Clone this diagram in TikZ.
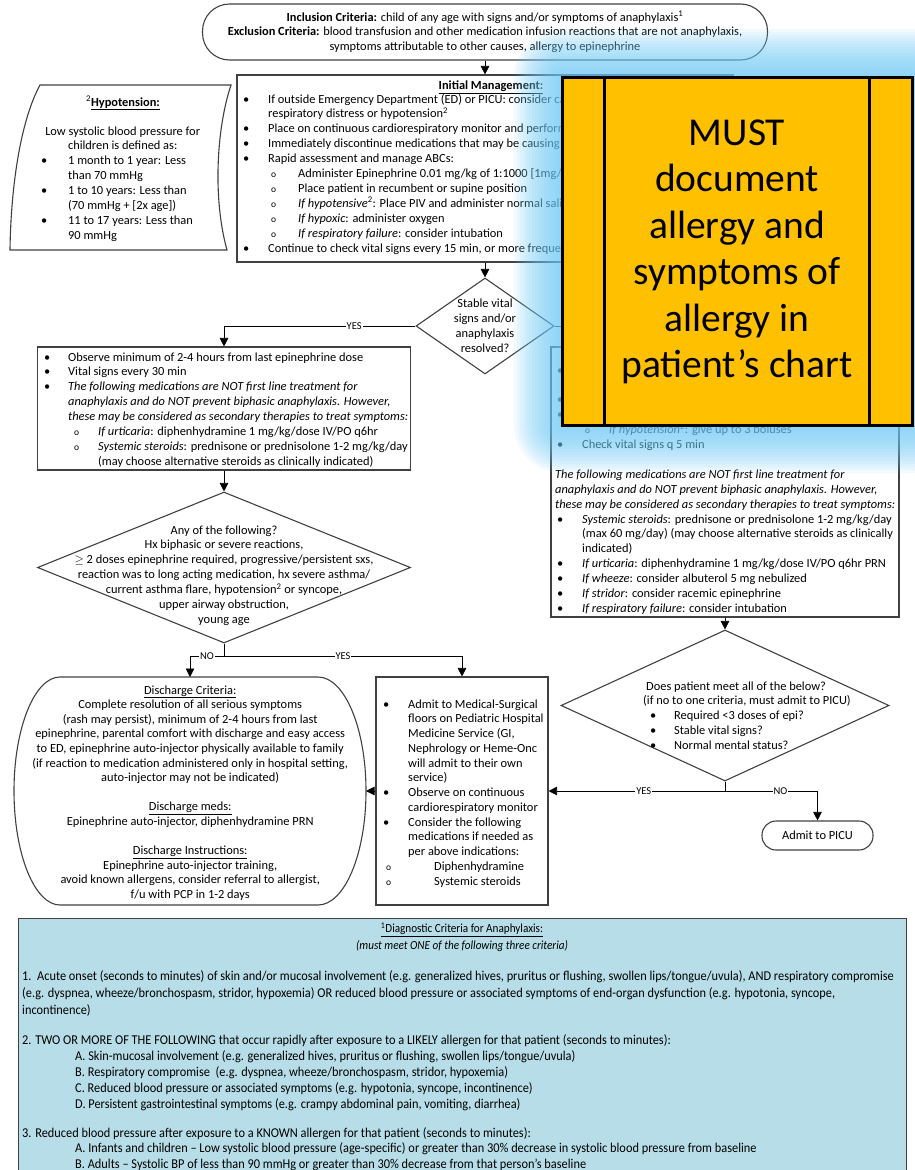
\documentclass[tikz,border=0pt]{standalone}
\usepackage{fontspec}
\setmainfont{Carlito}
\newfontfamily\condfont[FakeStretch=0.9]{Carlito}
\newfontfamily\panelfont[FakeStretch=0.915]{Carlito}
\usetikzlibrary{arrows.meta,shapes.geometric}
\definecolor{boxgray}{RGB}{64,64,64}
\definecolor{panelblue}{RGB}{183,222,232}
\definecolor{notegold}{RGB}{255,192,0}
\definecolor{haloblue}{RGB}{110,200,245}
% list markers with a hanging width
\newcommand\itembul[1][24pt]{\makebox[#1][l]{•}}
\newcommand\itemcirc[1][26pt]{\makebox[#1][l]{\fontsize{9.5}{9.5}\selectfont o}}

\begin{document}
\begin{tikzpicture}[x=1pt,y=-1pt,
  font=\fontsize{12.4}{14.9}\selectfont,
  box/.style={draw=boxgray, line width=1.1pt},
  conn/.style={draw=black, line width=0.7pt},
  arr/.style={conn, -{Triangle[length=8.5pt,width=8.5pt]}},
  lbl/.style={fill=white, inner sep=1pt, font=\fontsize{10.5}{12}\selectfont},
  body/.style={inner sep=0pt, anchor=base west},
  plain/.style={inner sep=0pt, align=center}]
\useasboundingbox (0,0) rectangle (914,1170);

% ---------- entry criteria ----------
\node[box, rounded corners=27pt, minimum width=565pt, minimum height=56pt, align=center, inner sep=0pt] (incl) at (485,32)
  {\textbf{Inclusion Criteria:} child of any age with signs and/or symptoms of anaphylaxis\textsuperscript{1}\\
   \textbf{Exclusion Criteria:} blood transfusion and other medication infusion reactions that are not anaphylaxis,\\
   symptoms attributable to other causes, allergy to epinephrine};

% ---------- hypotension note ----------
\draw[box] (40,85) -- (231,85) .. controls (216,130) and (213,200) .. (227,250)
  -- (10,250) .. controls (11,180) and (22,118) .. (40,85) -- cycle;
\node[inner sep=0pt] (hyptitle) at (123,103) {\textsuperscript{2}\underline{\textbf{Hypotension:}}};
\node[body] (hyptxt) at (41,135) {\parbox[t]{200pt}{%
  \makebox[163pt]{Low systolic blood pressure for}\\
  \makebox[163pt]{children is defined as:}\\
  \itembul[27pt]1 month to 1 year: Less\\
  \hspace*{27pt}than 70 mmHg\\
  \itembul[27pt]1 to 10 years: Less than\\
  \hspace*{27pt}(70 mmHg + [2x age])\\
  \itembul[27pt]11 to 17 years: Less than\\
  \hspace*{27pt}90 mmHg}};

% ---------- initial management ----------
\node[box, minimum width=496pt, minimum height=187pt] (init) at (485,168.5) {};
\node[inner sep=0pt] (inittitle) at (491,87) {\textbf{\underline{Initial Management:}}};
\node[body] (inittxt) at (243,103) {\parbox[t]{480pt}{%
  \itembul[25pt]If outside Emergency Department (ED) or PICU: consider calling\\
  \hspace*{25pt}respiratory distress or hypotension\textsuperscript{2}\\
  \itembul[25pt]Place on continuous cardiorespiratory monitor and perform\\
  \itembul[25pt]Immediately discontinue medications that may be causing\\
  \itembul[25pt]Rapid assessment and manage ABCs:\\
  \hspace*{28pt}\itemcirc[27pt]Administer Epinephrine 0.01 mg/kg of 1:1000 [1mg/mL]\\
  \hspace*{28pt}\itemcirc[27pt]Place patient in recumbent or supine position\\
  \hspace*{28pt}\itemcirc[27pt]\textit{If hypotensive}\textsuperscript{2}: Place PIV and administer normal saline\\
  \hspace*{28pt}\itemcirc[27pt]\textit{If hypoxic}: administer oxygen\\
  \hspace*{28pt}\itemcirc[27pt]\textit{If respiratory failure}: consider intubation\\
  \itembul[25pt]Continue to check vital signs every 15 min, or more frequently}};

% ---------- first decision ----------
\node[box, diamond, minimum width=138pt, minimum height=96pt, inner sep=0pt] (stab) at (485,326) {};
\node[plain] (stabtxt) at (485,326) {Stable vital\\signs and/or\\anaphylaxis\\resolved?};

% ---------- observation ----------
\node[box, minimum width=373pt, minimum height=123pt] (obs) at (224,408.5) {};
\node[body] (obstxt) at (44,361) {\parbox[t]{380pt}{%
  \itembul Observe minimum of 2-4 hours from last epinephrine dose\\
  \itembul Vital signs every 30 min\\
  \itembul\textit{The following medications are NOT first line treatment for}\\
  \hspace*{24pt}\textit{anaphylaxis and do NOT prevent biphasic anaphylaxis. However,}\\
  \hspace*{24pt}\textit{these may be considered as secondary therapies to treat symptoms:}\\
  \hspace*{30pt}\itemcirc[24pt]\textit{If urticaria}: diphenhydramine 1 mg/kg/dose IV/PO q6hr\\
  \hspace*{30pt}\itemcirc[24pt]\textit{Systemic steroids}: prednisone or prednisolone 1-2 mg/kg/day\\
  \hspace*{54pt}(may choose alternative steroids as clinically indicated)}};

% ---------- risk decision ----------
\node[box, diamond, minimum width=373pt, minimum height=151pt, inner sep=0pt] (any) at (224,567.5) {};
\node[plain] (anytxt) at (224,575.5) {Any of the following?\\
  Hx biphasic or severe reactions,\\
  $\geq$ 2 doses epinephrine required, progressive/persistent sxs,\\
  reaction was to long acting medication, hx severe asthma/\\
  current asthma flare, hypotension\textsuperscript{2} or syncope,\\
  upper airway obstruction,\\
  young age};

% ---------- discharge ----------
\draw[box] (60,677) -- (318,677)
  .. controls (344.5,677) and (366,728) .. (366,791)
  .. controls (366,854) and (344.5,905) .. (318,905)
  -- (60,905)
  .. controls (34.6,905) and (14,854) .. (14,791)
  .. controls (14,728) and (34.6,677) .. (60,677) -- cycle;
\coordinate (dischN) at (190,677);
\coordinate (dischE) at (366,791);
\node[body] (dischtxt) at (15,694) {\parbox[t]{350pt}{\centering\fontsize{12.4}{14.6}\selectfont
  \underline{Discharge Criteria:}\\
  Complete resolution of all serious symptoms\\
  (rash may persist), minimum of 2-4 hours from last\\
  epinephrine, parental comfort with discharge and easy access\\
  to ED, epinephrine auto-injector physically available to family\\
  (if reaction to medication administered only in hospital setting,\\
  auto-injector may not be indicated)\\[14.6pt]
  \underline{Discharge meds:}\\
  Epinephrine auto-injector, diphenhydramine PRN\\[14.6pt]
  \underline{Discharge Instructions:}\\
  Epinephrine auto-injector training,\\
  avoid known allergens, consider referral to allergist,\\
  f/u with PCP in 1-2 days}};

% ---------- admission ----------
\node[box, minimum width=172pt, minimum height=228pt] (admit) at (462,791) {};
\node[body] (admittxt) at (383,708) {\parbox[t]{170pt}{\fontsize{12.4}{14.75}\selectfont
  \itembul[25pt]Admit to Medical-Surgical\\
  \hspace*{25pt}floors on Pediatric Hospital\\
  \hspace*{25pt}Medicine Service (GI,\\
  \hspace*{25pt}Nephrology or Heme-Onc\\
  \hspace*{25pt}will admit to their own\\
  \hspace*{25pt}service)\\
  \itembul[25pt]Observe on continuous\\
  \hspace*{25pt}cardiorespiratory monitor\\
  \itembul[25pt]Consider the following\\
  \hspace*{25pt}medications if needed as\\
  \hspace*{25pt}per above indications:\\
  \hspace*{3pt}\itemcirc[48pt]Diphenhydramine\\
  \hspace*{3pt}\itemcirc[48pt]Systemic steroids}};

% ---------- ongoing treatment ----------
\node[box, minimum width=348pt, minimum height=270pt] (rbox) at (725,482) {};
\node[body] (rboxtxt) at (557,374) {\parbox[t]{345pt}{%
  \itembul[25pt]\\
  \mbox{}\\
  \itembul[25pt]\\
  \itembul[25pt]\\
  \hspace*{28pt}\itemcirc[24pt]\textit{If hypotension}\textsuperscript{2}: give up to 3 boluses\\
  \itembul[25pt]Check vital signs q 5 min\\[14.9pt]
  \hspace*{-2pt}\textit{The following medications are NOT first line treatment for}\\
  \hspace*{-2pt}\textit{anaphylaxis and do NOT prevent biphasic anaphylaxis. However,}\\
  \hspace*{-2pt}\textit{these may be considered as secondary therapies to treat symptoms:}\\
  \itembul[25pt]\textit{Systemic steroids}: prednisone or prednisolone 1-2 mg/kg/day\\
  \hspace*{25pt}(max 60 mg/day) (may choose alternative steroids as clinically\\
  \hspace*{25pt}indicated)\\
  \itembul[25pt]\textit{If urticaria}: diphenhydramine 1 mg/kg/dose IV/PO q6hr PRN\\
  \itembul[25pt]\textit{If wheeze}: consider albuterol 5 mg nebulized\\
  \itembul[25pt]\textit{If stridor}: consider racemic epinephrine\\
  \itembul[25pt]\textit{If respiratory failure}: consider intubation}};

% ---------- PICU decision ----------
\node[box, diamond, minimum width=328pt, minimum height=151pt, inner sep=0pt] (meet) at (725,705.5) {};
\node[body] (meettxt) at (643,690) {\parbox[t]{220pt}{%
  \hspace*{3pt}Does patient meet all of the below?\\
  (if no to one criteria, must admit to PICU)\\
  \hspace*{7pt}\itembul Required <3 doses of epi?\\
  \hspace*{7pt}\itembul Stable vital signs?\\
  \hspace*{7pt}\itembul Normal mental status?}};
\node[box, rounded corners=14pt, minimum width=111pt, minimum height=29pt] (picu) at (817.5,835.5) {Admit to PICU};

% ---------- connectors ----------
\draw[arr] (incl.south) -- (init.north);
\draw[arr] (init.south) -- (stab.north);
\draw[arr] (stab.west) -| node[lbl, pos=0.16] {YES} (obs.north);
\draw[arr] (stab.east) -| node[lbl, pos=0.25] {NO} (rbox.north);
\draw[arr] (obs.south) -- (any.north);
\coordinate (split1) at (224,656);
\draw[conn] (any.south) -- (split1);
\draw[arr] (split1) -| node[lbl, pos=0.25] {NO} (dischN);
\draw[arr] (split1) -| node[lbl, pos=0.25] {YES} (admit.north);
\draw[arr] (admit.west) -- (dischE);
\draw[arr] (rbox.south) -- (meet.north);
\coordinate (split2) at (725,791);
\draw[conn] (meet.south) -- (split2);
\draw[arr] (split2) -- node[lbl, pos=0.46] {YES} (admit.east);
\draw[arr] (split2) -| node[lbl, pos=0.3] {NO} (picu.north);

% ---------- diagnostic criteria panel ----------
\node[box, fill=panelblue, minimum width=888pt, minimum height=270pt, anchor=north west] (panel) at (18,918) {};
\node[inner sep=0pt] (dxtitle) at (462,930) {\condfont\underline{\textsuperscript{1}Diagnostic Criteria for Anaphylaxis:}};
\node[inner sep=0pt] (dxsub) at (462,946) {\condfont\textit{(must meet ONE of the following three criteria)}};
\node[body] (dx1) at (22,980) {\parbox[t]{890pt}{\panelfont\fontsize{13.5}{17}\selectfont
  1.\ \ Acute onset (seconds to minutes) of skin and/or mucosal involvement (e.g. generalized hives, pruritus or flushing, swollen lips/tongue/uvula), AND respiratory compromise\\
  (e.g. dyspnea, wheeze/bronchospasm, stridor, hypoxemia) OR reduced blood pressure or associated symptoms of end-organ dysfunction (e.g. hypotonia, syncope,\\
  incontinence)}};
\node[body] (dx2) at (22,1044) {\parbox[t]{890pt}{\panelfont\fontsize{13.5}{16}\selectfont
  2. TWO OR MORE OF THE FOLLOWING that occur rapidly after exposure to a LIKELY allergen for that patient (seconds to minutes):\\
  \hspace*{53pt}A. Skin-mucosal involvement (e.g. generalized hives, pruritus or flushing, swollen lips/tongue/uvula)\\
  \hspace*{53pt}B. Respiratory compromise\ \ (e.g. dyspnea, wheeze/bronchospasm, stridor, hypoxemia)\\
  \hspace*{53pt}C. Reduced blood pressure or associated symptoms (e.g. hypotonia, syncope, incontinence)\\
  \hspace*{53pt}D. Persistent gastrointestinal symptoms (e.g. crampy abdominal pain, vomiting, diarrhea)}};
\node[body] (dx3) at (22,1137) {\parbox[t]{890pt}{\panelfont\fontsize{13.5}{15.5}\selectfont
  3. Reduced blood pressure after exposure to a KNOWN allergen for that patient (seconds to minutes):\\
  \hspace*{53pt}A. Infants and children – Low systolic blood pressure (age-specific) or greater than 30\% decrease in systolic blood pressure from baseline\\
  \hspace*{53pt}B. Adults – Systolic BP of less than 90 mmHg or greater than 30\% decrease from that person’s baseline}};

% ---------- charting reminder with soft halo ----------
\foreach \i in {1,...,16}{
  \pgfmathsetmacro\g{3*\i}
  \fill[haloblue, opacity=0.085, rounded corners=\g pt] ({562-\g},{77-\g}) rectangle ({912+\g},{425+\g});
}
\node[draw=black, line width=3pt, fill=notegold, minimum width=350pt, minimum height=348pt, inner sep=0pt] (note) at (737,251) {};
\draw[black, line width=3pt] ([xshift=44pt]note.north west) -- ([xshift=44pt]note.south west);
\draw[black, line width=3pt] ([xshift=-44pt]note.north east) -- ([xshift=-44pt]note.south east);
\node[plain, font=\fontsize{39.5}{46.5}\selectfont] (notetxt) at (737,252)
  {MUST\\document\\allergy and\\symptoms of\\allergy in\\patient’s chart};
\end{tikzpicture}
\end{document}
